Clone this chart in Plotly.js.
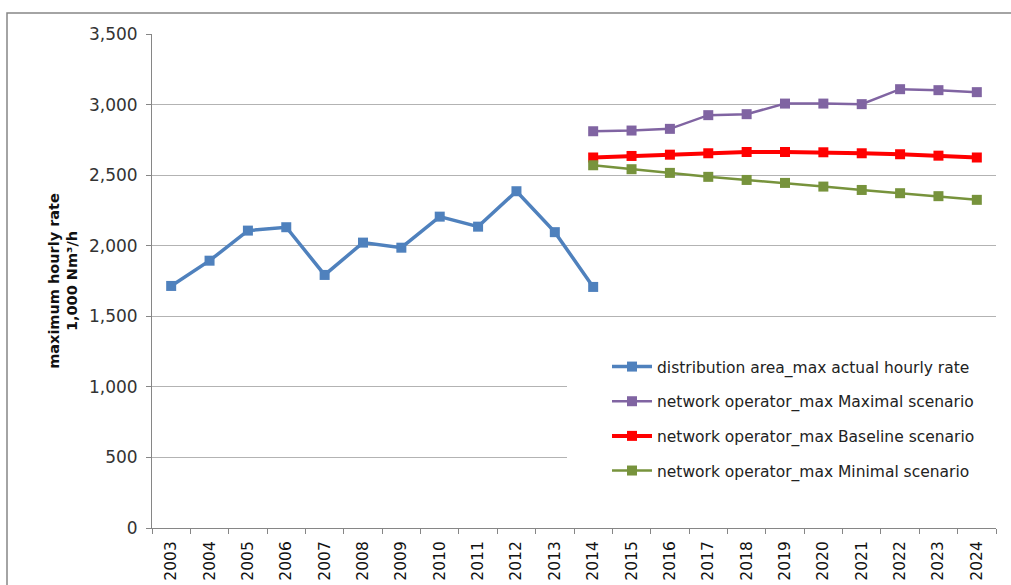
<!DOCTYPE html>
<html>
<head>
<meta charset="utf-8">
<script src="https://cdn.plot.ly/plotly-3.0.1.min.js"></script>
<style>html,body{margin:0;padding:0;background:#fff;}#chart{width:1011px;height:585px;}</style>
</head>
<body>
<div id="chart"></div>
<script>
var years = ["2003","2004","2005","2006","2007","2008","2009","2010","2011","2012","2013","2014","2015","2016","2017","2018","2019","2020","2021","2022","2023","2024"];
var actualYears = ["2003","2004","2005","2006","2007","2008","2009","2010","2011","2012","2013","2014"];
var actualRate = [1715, 1894, 2107, 2131, 1793, 2022, 1986, 2206, 2135, 2386, 2096, 1708];
var scenarioYears = ["2014","2015","2016","2017","2018","2019","2020","2021","2022","2023","2024"];
var maximalScenario = [2811, 2816, 2828, 2925, 2932, 3007, 3007, 3003, 3109, 3102, 3088];
var baselineScenario = [2625, 2636, 2645, 2655, 2664, 2664, 2662, 2655, 2648, 2638, 2625];
var minimalScenario = [2570, 2542, 2516, 2488, 2466, 2445, 2419, 2395, 2372, 2351, 2325];
var seriesNames = ["distribution area_max actual hourly rate","network operator_max Maximal scenario","network operator_max Baseline scenario","network operator_max Minimal scenario"];
var yTicks = [0, 500, 1000, 1500, 2000, 2500, 3000, 3500];

function tr(x, y, name, color, lw, ms, grp) {
  return {x: x, y: y, name: name, type: 'scatter', mode: 'lines+markers', legendgroup: grp,
    line: {color: color, width: lw}, marker: {symbol: 'square', size: ms, color: color}};
}
var data = [
  tr(actualYears, actualRate, seriesNames[0], '#4F81BD', 3.5, 10, 'a'),
  tr(scenarioYears, maximalScenario, seriesNames[1], '#8064A2', 2.5, 10, 'b'),
  tr(scenarioYears, baselineScenario, seriesNames[2], '#FF0000', 4, 10, 'c'),
  tr(scenarioYears, minimalScenario, seriesNames[3], '#77933C', 2.5, 10, 'd')
];
var H = 494, W = 844;
function px(xp){return (xp-152)/W;}
function py(yp){return (528-yp)/H;}
var layout = {
  width: 1011, height: 585,
  margin: {l: 152, r: 15, t: 34, b: 57},
  paper_bgcolor: '#fff', plot_bgcolor: '#fff',
  font: {family: 'DejaVu Sans', color: '#333'},
  showlegend: true,
  legend: {x: px(607), xanchor: 'left', y: py(350), yanchor: 'top', bgcolor: 'rgba(0,0,0,0)',
    font: {family: 'DejaVu Sans', size: 15.5, color: '#222'}, tracegroupgap: 11.5, itemwidth: 40},
  xaxis: {type: 'category', categoryorder: 'array', categoryarray: years, tickvals: years,
    range: [-0.5, 21.5], tickson: 'boundaries', ticks: 'outside', ticklen: 5, tickcolor: '#868686',
    showline: true, linecolor: '#868686', linewidth: 1, showgrid: false, zeroline: false,
    tickangle: -90, ticklabelstandoff: 6, tickfont: {family: 'DejaVu Sans', size: 15.5, color: '#111'}, fixedrange: true},
  yaxis: {range: [0, 3500], tickvals: yTicks, tickformat: ',d', ticks: 'outside', ticklen: 5,
    tickcolor: '#868686', showline: true, linecolor: '#868686', linewidth: 1,
    showgrid: true, gridcolor: '#b3b3b3', gridwidth: 1, zeroline: false, ticklabelstandoff: 5,
    tickfont: {family: 'DejaVu Sans', size: 17, color: '#333'},
    title: {text: 'maximum hourly rate<br>1,000 Nm³/h', font: {family: 'DejaVu Sans', size: 14.5, color: '#111', weight: 'bold'}, standoff: 7},
    fixedrange: true},
  shapes: [
    {type: 'rect', xref: 'paper', yref: 'paper', x0: px(567), x1: 1, y0: py(495), y1: py(340),
      fillcolor: '#fff', line: {width: 0}, layer: 'above'},
    {type: 'rect', xref: 'paper', yref: 'paper', x0: px(7), x1: px(1030), y0: py(610), y1: py(13),
      fillcolor: 'rgba(0,0,0,0)', line: {color: '#868686', width: 1.5}, layer: 'above'}
  ]
};
Plotly.newPlot('chart', data, layout, {displayModeBar: false, staticPlot: true});
</script>
</body>
</html>
